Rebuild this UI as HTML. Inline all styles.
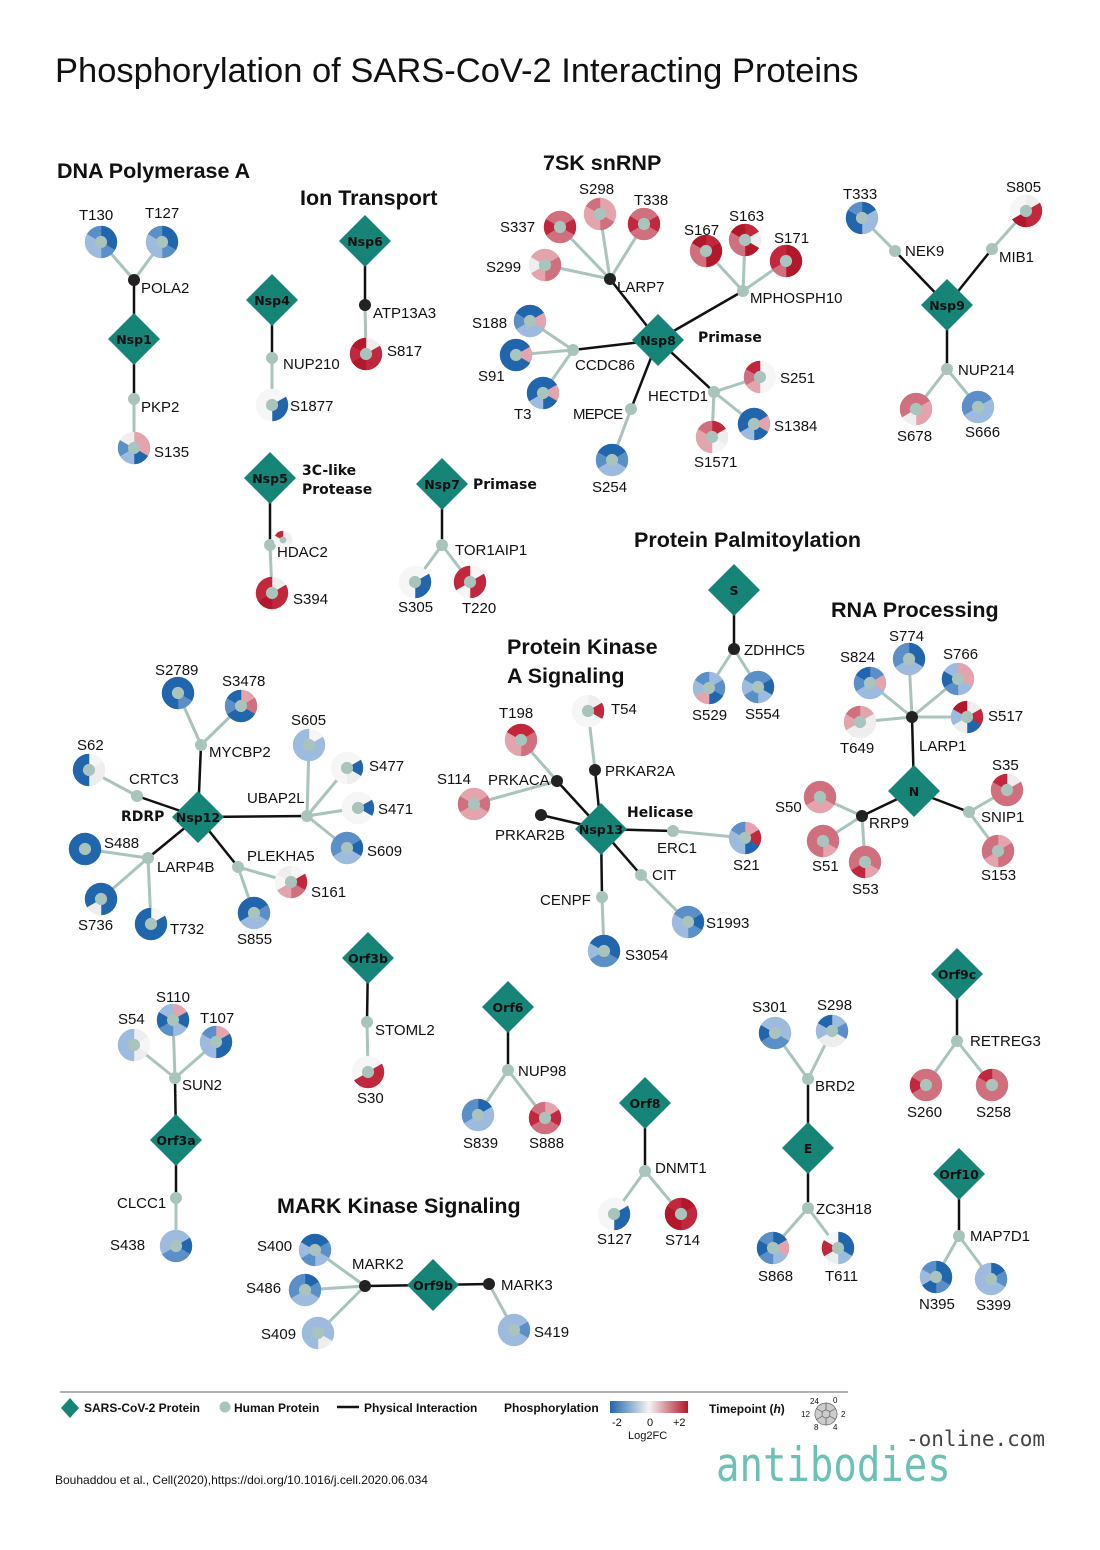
<!DOCTYPE html>
<html><head><meta charset="utf-8"><style>
html,body{margin:0;padding:0;background:#fff;width:1100px;height:1550px;overflow:hidden}
svg{display:block}
text{font-family:"Liberation Sans",sans-serif;font-size:15px;fill:#111}
.h{font-size:21.5px;font-weight:bold}
.d{font-family:"DejaVu Sans",sans-serif;font-size:12.5px;font-weight:bold;text-anchor:middle;fill:#111}
.b{font-family:"DejaVu Sans",sans-serif;font-size:14px;font-weight:bold}
.lg{font-size:12px;font-weight:bold}
</style></head><body>
<svg id="s" width="1100" height="1550" viewBox="0 0 1100 1550" xmlns="http://www.w3.org/2000/svg">
<g id="edges"></g><g id="nodes"></g>
<g id="labels">
<text x="55" y="82" style="font-size:34.5px">Phosphorylation of SARS-CoV-2 Interacting Proteins</text>
<text class="h" x="57" y="178">DNA Polymerase A</text>
<text class="h" x="300" y="205">Ion Transport</text>
<text class="h" x="543" y="170">7SK snRNP</text>
<text class="h" x="634" y="547">Protein Palmitoylation</text>
<text class="h" x="831" y="617">RNA Processing</text>
<text class="h" x="507" y="654">Protein Kinase</text>
<text class="h" x="507" y="683">A Signaling</text>
<text class="h" x="277" y="1213">MARK Kinase Signaling</text>

<text class="d" x="134" y="344">Nsp1</text>
<text class="d" x="365" y="246">Nsp6</text>
<text class="d" x="272" y="305">Nsp4</text>
<text class="d" x="658" y="345">Nsp8</text>
<text class="d" x="947" y="310">Nsp9</text>
<text class="d" x="270" y="483">Nsp5</text>
<text class="d" x="442" y="489">Nsp7</text>
<text class="d" x="734" y="595">S</text>
<text class="d" x="914" y="796">N</text>
<text class="d" x="601" y="834">Nsp13</text>
<text class="d" x="198" y="822">Nsp12</text>
<text class="d" x="368" y="963">Orf3b</text>
<text class="d" x="176" y="1145">Orf3a</text>
<text class="d" x="508" y="1012">Orf6</text>
<text class="d" x="645" y="1108">Orf8</text>
<text class="d" x="433" y="1290">Orf9b</text>
<text class="d" x="808" y="1153">E</text>
<text class="d" x="957" y="979">Orf9c</text>
<text class="d" x="959" y="1179">Orf10</text>

<text x="141" y="293">POLA2</text><text x="79" y="220">T130</text><text x="145" y="218">T127</text>
<text x="141" y="412">PKP2</text><text x="154" y="457">S135</text>
<text x="373" y="318">ATP13A3</text><text x="387" y="356">S817</text>
<text x="283" y="369">NUP210</text><text x="290" y="411">S1877</text>
<text x="617" y="292">LARP7</text><text x="500" y="232">S337</text><text x="579" y="194">S298</text><text x="634" y="205">T338</text><text x="486" y="272">S299</text>
<text x="750" y="303">MPHOSPH10</text><text x="684" y="235">S167</text><text x="729" y="221">S163</text><text x="774" y="243">S171</text>
<text x="575" y="370">CCDC86</text><text x="472" y="328">S188</text><text x="478" y="381">S91</text><text x="514" y="419">T3</text>
<text class="b" x="698" y="342">Primase</text>
<text x="648" y="401">HECTD1</text><text x="780" y="383">S251</text><text x="774" y="431">S1384</text><text x="694" y="467">S1571</text>
<text x="573" y="419" style="letter-spacing:-0.8px">MEPCE</text><text x="592" y="492">S254</text>
<text x="905" y="256">NEK9</text><text x="843" y="199">T333</text><text x="999" y="262">MIB1</text><text x="1006" y="192">S805</text>
<text x="958" y="375">NUP214</text><text x="897" y="441">S678</text><text x="965" y="437">S666</text>
<text class="b" x="302" y="475">3C-like</text><text class="b" x="302" y="494">Protease</text>
<text x="277" y="557">HDAC2</text><text x="293" y="604">S394</text>
<text class="b" x="473" y="489">Primase</text>
<text x="455" y="555">TOR1AIP1</text><text x="398" y="612">S305</text><text x="462" y="613">T220</text>
<text x="744" y="655">ZDHHC5</text><text x="692" y="720">S529</text><text x="745" y="719">S554</text>
<text x="919" y="751">LARP1</text><text x="840" y="662">S824</text><text x="889" y="641">S774</text><text x="943" y="659">S766</text><text x="988" y="721">S517</text><text x="840" y="753">T649</text>
<text x="869" y="828">RRP9</text><text x="775" y="812">S50</text><text x="812" y="871">S51</text><text x="852" y="894">S53</text>
<text x="981" y="822">SNIP1</text><text x="992" y="770">S35</text><text x="981" y="880">S153</text>
<text class="b" x="627" y="817">Helicase</text>
<text x="488" y="785">PRKACA</text><text x="499" y="718">T198</text><text x="611" y="714">T54</text><text x="437" y="784">S114</text>
<text x="605" y="776">PRKAR2A</text><text x="495" y="840">PRKAR2B</text>
<text x="657" y="853">ERC1</text><text x="733" y="870">S21</text><text x="652" y="880">CIT</text><text x="706" y="928">S1993</text>
<text x="540" y="905">CENPF</text><text x="625" y="960">S3054</text>
<text class="b" x="121" y="821">RDRP</text>
<text x="129" y="784">CRTC3</text><text x="77" y="750">S62</text>
<text x="209" y="757">MYCBP2</text><text x="155" y="675">S2789</text><text x="222" y="686">S3478</text>
<text x="247" y="803">UBAP2L</text><text x="291" y="725">S605</text><text x="369" y="771">S477</text><text x="378" y="814">S471</text><text x="367" y="856">S609</text>
<text x="157" y="872">LARP4B</text><text x="104" y="848">S488</text><text x="78" y="930">S736</text><text x="170" y="934">T732</text>
<text x="247" y="861">PLEKHA5</text><text x="311" y="897">S161</text><text x="237" y="944">S855</text>
<text x="375" y="1035">STOML2</text><text x="357" y="1103">S30</text>
<text x="182" y="1090">SUN2</text><text x="118" y="1024">S54</text><text x="156" y="1002">S110</text><text x="200" y="1023">T107</text>
<text x="117" y="1208">CLCC1</text><text x="110" y="1250">S438</text>
<text x="518" y="1076">NUP98</text><text x="463" y="1148">S839</text><text x="529" y="1148">S888</text>
<text x="655" y="1173">DNMT1</text><text x="597" y="1244">S127</text><text x="665" y="1245">S714</text>
<text x="352" y="1269">MARK2</text><text x="257" y="1251">S400</text><text x="246" y="1293">S486</text><text x="261" y="1339">S409</text>
<text x="501" y="1290">MARK3</text><text x="534" y="1337">S419</text>
<text x="815" y="1091">BRD2</text><text x="752" y="1012">S301</text><text x="817" y="1010">S298</text>
<text x="816" y="1214">ZC3H18</text><text x="758" y="1281">S868</text><text x="825" y="1281">T611</text>
<text x="970" y="1046">RETREG3</text><text x="907" y="1117">S260</text><text x="976" y="1117">S258</text>
<text x="970" y="1241">MAP7D1</text><text x="919" y="1309">N395</text><text x="976" y="1310">S399</text>

<line x1="60" y1="1392" x2="848" y2="1392" stroke="#999" stroke-width="1.5"/>
<polygon points="70,1398 79,1408 70,1418 61,1408" fill="#168477"/>
<text class="lg" x="84" y="1412">SARS-CoV-2 Protein</text>
<circle cx="225" cy="1407" r="5.5" fill="#a9c4bc"/>
<text class="lg" x="234" y="1412">Human Protein</text>
<line x1="337" y1="1407" x2="359" y2="1407" stroke="#111" stroke-width="2.5"/>
<text class="lg" x="364" y="1412">Physical Interaction</text>
<text class="lg" x="504" y="1412">Phosphorylation</text>
<defs><linearGradient id="g"><stop offset="0" stop-color="#2166ac"/><stop offset="0.5" stop-color="#f4f4f4"/><stop offset="1" stop-color="#b2182b"/></linearGradient></defs>
<rect x="610" y="1401" width="78" height="12" fill="url(#g)"/>
<text x="612" y="1426" style="font-size:11px">-2</text><text x="647" y="1426" style="font-size:11px">0</text><text x="673" y="1426" style="font-size:11px">+2</text>
<text x="628" y="1439" style="font-size:11px">Log2FC</text>
<text class="lg" x="709" y="1413">Timepoint (<tspan font-style="italic">h</tspan>)</text>
<g id="tp"></g>
<text x="810" y="1404" style="font-size:8px">24</text><text x="833" y="1403" style="font-size:8px">0</text><text x="841" y="1417" style="font-size:8px">2</text>
<text x="801" y="1417" style="font-size:8px">12</text><text x="814" y="1430" style="font-size:8px">8</text><text x="833" y="1430" style="font-size:8px">4</text>
<text x="55" y="1484" style="font-size:12px">Bouhaddou et al., Cell(2020),https://doi.org/10.1016/j.cell.2020.06.034</text>
<text x="906" y="1446" style="font-family:'DejaVu Sans Mono',monospace;font-size:21px;fill:#444">-online.com</text>
<text x="716" y="1481" style="font-family:'DejaVu Sans Mono',monospace;font-size:39px;fill:#6cc0b4" transform="translate(716 1481) scale(1 1.2) translate(-716 -1481)">antibodies</text>
</g>
</svg>
<script>
var C={B:"#2166ac",M:"#5b8fc7",L:"#9dbbdf",W:"#eeeeee",P:"#e3a4ad",Q:"#d0707f",R:"#c1273d",D:"#b2182b",X:"#f6f6f6"};
var NS="http://www.w3.org/2000/svg";
function el(p,t,a){var e=document.createElementNS(NS,t);for(var k in a)e.setAttribute(k,a[k]);document.getElementById(p).appendChild(e);return e;}
var N={};
function dia(n,x,y){N[n]=[x,y];el("nodes","polygon",{points:(x)+","+(y-26)+" "+(x+26)+","+y+" "+x+","+(y+26)+" "+(x-26)+","+y,fill:"#168477"});}
function hum(n,x,y){N[n]=[x,y];el("nodes","circle",{cx:x,cy:y,r:6,fill:"#a9c4bc"});}
function blk(n,x,y){N[n]=[x,y];el("nodes","circle",{cx:x,cy:y,r:6,fill:"#222"});}
function ed(a,b){el("edges","line",{x1:N[a][0],y1:N[a][1],x2:N[b][0],y2:N[b][1],stroke:"#111","stroke-width":2.5});}
function pie(par,x,y,c,r,g){r=r||16;
 if(par)el("edges","line",{x1:N[par][0],y1:N[par][1],x2:x,y2:y,stroke:"#a9c4bc","stroke-width":3});
 for(var i=0;i<6;i++){var a0=(-90+i*60)*Math.PI/180,a1=(-90+(i+1)*60)*Math.PI/180;
  var d="M"+x+","+y+" L"+(x+r*Math.cos(a0))+","+(y+r*Math.sin(a0))+" A"+r+","+r+" 0 0 1 "+(x+r*Math.cos(a1))+","+(y+r*Math.sin(a1))+" Z";
  el(g||"nodes","path",{d:d,fill:C[c[i]]||"#ccc",stroke:C[c[i]]||"#ccc","stroke-width":0.5});}
 el(g||"nodes","circle",{cx:x,cy:y,r:r*0.38,fill:"#a9c4bc"});}
dia("Nsp1",134,339);blk("POLA2",134,280);hum("PKP2",134,399);ed("Nsp1","POLA2");ed("Nsp1","PKP2");
pie("POLA2",101,242,"BBMLLM");pie("POLA2",162,242,"BBMLLM");pie("PKP2",134,448,"PPBLMW");
dia("Nsp6",365,241);blk("ATP13A3",365,305);ed("Nsp6","ATP13A3");pie("ATP13A3",366,354,"WRRDRD");
dia("Nsp4",272,300);hum("NUP210",272,358);ed("Nsp4","NUP210");pie("NUP210",272,405,"XBBXXX");
dia("Nsp8",658,340);blk("LARP7",610,279);hum("MPHOSPH10",743,291);hum("CCDC86",573,350);hum("HECTD1",714,392);hum("MEPCE",631,409);
ed("Nsp8","LARP7");ed("Nsp8","MPHOSPH10");ed("Nsp8","CCDC86");ed("Nsp8","HECTD1");ed("Nsp8","MEPCE");
pie("LARP7",560,227,"QRQQRQ");pie("LARP7",600,214,"PPQPPQ");pie("LARP7",644,224,"QRQQRQ");pie("LARP7",545,265,"PQQPWP");
pie("MPHOSPH10",706,251,"RDDQQD");pie("MPHOSPH10",745,240,"RWDQQD");pie("MPHOSPH10",786,261,"DDDQRR");
pie("CCDC86",530,321,"BPLLMB");pie("CCDC86",516,355,"BPBBBB");pie("CCDC86",543,393,"BPBLBB");
pie("HECTD1",760,377,"XXXPQR");pie("HECTD1",754,424,"BPBLBB");pie("HECTD1",712,437,"RWXPPQ");
pie("MEPCE",612,460,"BMLLMB");
dia("Nsp9",947,305);hum("NEK9",895,251);hum("MIB1",992,249);hum("NUP214",947,369);
ed("Nsp9","NEK9");ed("Nsp9","MIB1");ed("Nsp9","NUP214");
pie("NEK9",862,218,"BLLBBM");pie("MIB1",1026,211,"WRRDXX");pie("NUP214",916,409,"QPPWQQ");pie("NUP214",978,407,"MLLLMM");
dia("Nsp5",270,478);hum("HDAC2",270,545);ed("Nsp5","HDAC2");pie("HDAC2",272,593,"WRRDRR");
pie(null,283,540,"WWXXXR",9);
dia("Nsp7",442,484);hum("TOR1AIP1",442,545);ed("Nsp7","TOR1AIP1");pie("TOR1AIP1",415,582,"XBBXXX");pie("TOR1AIP1",470,582,"XRRXRR");
dia("S",734,590);blk("ZDHHC5",734,649);ed("S","ZDHHC5");pie("ZDHHC5",709,688,"LMBPLM");pie("ZDHHC5",758,687,"MBLMLM");
dia("N",914,791);blk("LARP1",912,717);blk("RRP9",862,816);hum("SNIP1",969,812);ed("N","LARP1");ed("N","RRP9");ed("N","SNIP1");
pie("LARP1",870,683,"MPLLMB");pie("LARP1",909,659,"BBLLMM");pie("LARP1",958,679,"PPLMBL");pie("LARP1",967,717,"WRBWLD");pie("LARP1",860,722,"PWWWPQ");
pie("RRP9",820,797,"QQPPQQ");pie("RRP9",823,841,"QQPQQQ");pie("RRP9",865,862,"QQPRQQ");
pie("SNIP1",1007,790,"WQQQQR");pie("SNIP1",998,851,"PQQPQQ");
dia("Nsp13",601,829);blk("PRKACA",557,781);blk("PRKAR2A",595,770);blk("PRKAR2B",541,815);hum("ERC1",673,831);hum("CIT",641,875);hum("CENPF",602,897);
["PRKACA","PRKAR2A","PRKAR2B","ERC1","CIT","CENPF"].forEach(function(n){ed("Nsp13",n)});
pie("PRKACA",521,740,"RQQPPR");pie("PRKAR2A",588,711,"WRXXXX");pie("PRKACA",474,804,"PQPPQP");
pie("ERC1",745,838,"PRBLLM");pie("CIT",688,922,"MBMLLM");pie("CENPF",604,951,"BBMMLB");
dia("Nsp12",198,817);hum("CRTC3",137,796);hum("MYCBP2",201,745);hum("UBAP2L",307,816);hum("LARP4B",148,858);hum("PLEKHA5",238,867);
["CRTC3","MYCBP2","UBAP2L","LARP4B","PLEKHA5"].forEach(function(n){ed("Nsp12",n)});
pie("CRTC3",89,770,"XWWBBB");pie("MYCBP2",178,693,"BBMBBB");pie("MYCBP2",241,706,"PQBBMB");
pie("UBAP2L",309,745,"XLLLLL");pie("UBAP2L",347,768,"XBWXXX");pie("UBAP2L",358,808,"XBXXXX");pie("UBAP2L",347,848,"MBLLMM");
pie("LARP4B",85,849,"BBBBBB");pie("LARP4B",101,899,"BBBWBB");pie("LARP4B",151,924,"XBBBBB");
pie("PLEKHA5",291,882,"XRQPXW");pie("PLEKHA5",254,913,"BMLLBB");
dia("Orf3b",368,958);hum("STOML2",367,1022);ed("Orf3b","STOML2");pie("STOML2",368,1072,"XRRRXX");
dia("Orf3a",176,1140);hum("SUN2",175,1078);hum("CLCC1",176,1198);ed("Orf3a","SUN2");ed("Orf3a","CLCC1");
pie("SUN2",134,1045,"WXWLLL");pie("SUN2",173,1020,"PBLMBL");pie("SUN2",216,1042,"PBBLLM");pie("CLCC1",176,1246,"LBMMLL");
dia("Orf6",508,1007);hum("NUP98",508,1070);ed("Orf6","NUP98");pie("NUP98",478,1115,"BLLLMM");pie("NUP98",545,1118,"PRQQRQ");
dia("Orf8",645,1103);hum("DNMT1",645,1171);ed("Orf8","DNMT1");pie("DNMT1",614,1214,"XBBXXX");pie("DNMT1",681,1214,"DRRDDR");
dia("Orf9b",433,1285);blk("MARK2",365,1286);blk("MARK3",489,1284);ed("Orf9b","MARK2");ed("Orf9b","MARK3");
pie("MARK2",315,1250,"BMLMLB");pie("MARK2",305,1290,"BMLLMM");pie("MARK2",318,1333,"LLWLLL");pie("MARK3",514,1330,"LMLLLL");
dia("E",808,1148);hum("BRD2",808,1079);hum("ZC3H18",808,1208);ed("E","BRD2");ed("E","ZC3H18");
pie("BRD2",775,1033,"LLMMBL");pie("BRD2",832,1031,"LMWWLB");pie("ZC3H18",773,1248,"BPLMBM");pie("ZC3H18",838,1248,"BBLWRX");
dia("Orf9c",957,974);hum("RETREG3",957,1041);ed("Orf9c","RETREG3");pie("RETREG3",926,1085,"QQQQRQ");pie("RETREG3",992,1085,"QQQQQR");
dia("Orf10",959,1174);hum("MAP7D1",959,1236);ed("Orf10","MAP7D1");pie("MAP7D1",936,1277,"BBMBLM");pie("MAP7D1",991,1279,"BMLLLL");
(function(){var x=826,y=1414,r=11;for(var i=0;i<6;i++){var a0=(-90+i*60)*Math.PI/180,a1=(-90+(i+1)*60)*Math.PI/180;
el("tp","path",{d:"M"+x+","+y+" L"+(x+r*Math.cos(a0))+","+(y+r*Math.sin(a0))+" A"+r+","+r+" 0 0 1 "+(x+r*Math.cos(a1))+","+(y+r*Math.sin(a1))+" Z",fill:"#ccc",stroke:"#666","stroke-width":0.7});}
el("tp","circle",{cx:x,cy:y,r:4,fill:"#ccc",stroke:"#666","stroke-width":0.7});})();
</script>
</body></html>
